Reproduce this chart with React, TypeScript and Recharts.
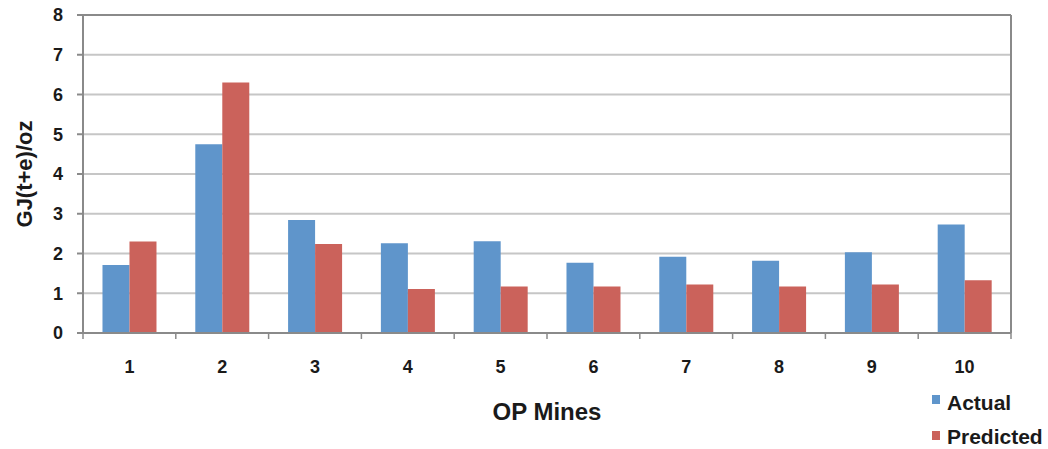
import React from 'react';
import { BarChart, Bar, XAxis, YAxis, CartesianGrid, ReferenceLine, Legend } from 'recharts';

// Energy intensity per open-pit mine, actual vs. model prediction
const MINES = ['1', '2', '3', '4', '5', '6', '7', '8', '9', '10'];
const ACTUAL = [1.71, 4.75, 2.84, 2.26, 2.31, 1.77, 1.92, 1.82, 2.03, 2.73];
const PREDICTED = [2.3, 6.3, 2.24, 1.11, 1.17, 1.17, 1.22, 1.17, 1.22, 1.33];
const Y_TICKS = [0, 1, 2, 3, 4, 5, 6, 7, 8];

const SERIES = [
  { key: 'actual', name: 'Actual', color: '#5f95cb' },
  { key: 'predicted', name: 'Predicted', color: '#cb625b' },
];

const data = MINES.map((mine, i) => ({ mine, actual: ACTUAL[i], predicted: PREDICTED[i] }));

const FONT = '"Liberation Sans", Arial, Helvetica, sans-serif';
const AXIS_GREY = '#8a8a8a';

// Category label plus the small boundary tick marks between categories
const MineTick = (props: any) => {
  const { x, y, payload, index, width } = props;
  const band = typeof width === 'number' && width > 0 ? width / MINES.length : 2 * (payload?.offset ?? 0);
  const half = band / 2;
  return (
    <g>
      <line x1={x - half} x2={x - half} y1={y} y2={y + 6} stroke={AXIS_GREY} strokeWidth={1.5} />
      {index === MINES.length - 1 && (
        <line x1={x + half} x2={x + half} y1={y} y2={y + 6} stroke={AXIS_GREY} strokeWidth={1.5} />
      )}
      <text x={x} y={y + 40} textAnchor="middle" fontFamily={FONT} fontSize={18} fontWeight="bold" fill="#1a1a1a">
        {payload.value}
      </text>
    </g>
  );
};

const LegendBox = () => (
  <svg width={120} height={64} style={{ display: 'block' }}>
    {SERIES.map((s, i) => (
      <g key={s.key}>
        <rect x={4} y={8 + i * 36} width={8} height={9} fill={s.color} />
        <text x={19} y={23 + i * 34} fontFamily={FONT} fontSize={21} fontWeight="bold" fill="#1a1a1a">
          {s.name}
        </text>
      </g>
    ))}
  </svg>
);

export default function App() {
  return (
    <div style={{ position: 'absolute', left: 0, top: 0, width: 1048, height: 449, background: '#fff' }}>
      <BarChart
        width={1048}
        height={449}
        data={data}
        margin={{ top: 15, right: 37, bottom: 16, left: 0 }}
        barCategoryGap="21%"
        barGap={0}
      >
        <CartesianGrid vertical={false} stroke="#c6c6c6" strokeWidth={2} />
        <XAxis
          dataKey="mine"
          height={100}
          interval={0}
          tickLine={false}
          tickSize={0}
          tickMargin={0}
          tick={<MineTick />}
          axisLine={{ stroke: AXIS_GREY, strokeWidth: 2 }}
          label={{
            value: 'OP Mines',
            position: 'insideTop',
            offset: 70,
            style: { fontFamily: FONT, fontSize: 24, fontWeight: 'bold', fill: '#1a1a1a' },
          }}
        />
        <YAxis
          width={83}
          domain={[0, 8]}
          ticks={Y_TICKS}
          interval={0}
          tickSize={6}
          tickMargin={14}
          tickLine={{ stroke: AXIS_GREY, strokeWidth: 2 }}
          axisLine={{ stroke: AXIS_GREY, strokeWidth: 2 }}
          tick={{ fontFamily: FONT, fontSize: 18, fontWeight: 'bold', fill: '#1a1a1a' }}
          label={{
            value: 'GJ(t+e)/oz',
            angle: -90,
            position: 'center',
            dx: -17,
            style: { fontFamily: FONT, fontSize: 22, fontWeight: 'bold', fill: '#1a1a1a', textAnchor: 'middle' },
          }}
        />
        <ReferenceLine y={8} stroke={AXIS_GREY} strokeWidth={2} />
        <ReferenceLine x="10" position="end" stroke={AXIS_GREY} strokeWidth={2} />
        <Legend
          layout="vertical"
          align="center"
          verticalAlign="middle"
          wrapperStyle={{ left: 928, top: 387, width: 120 }}
          content={<LegendBox />}
        />
        {SERIES.map((s) => (
          <Bar key={s.key} dataKey={s.key} name={s.name} fill={s.color} isAnimationActive={false} />
        ))}
      </BarChart>
    </div>
  );
}
